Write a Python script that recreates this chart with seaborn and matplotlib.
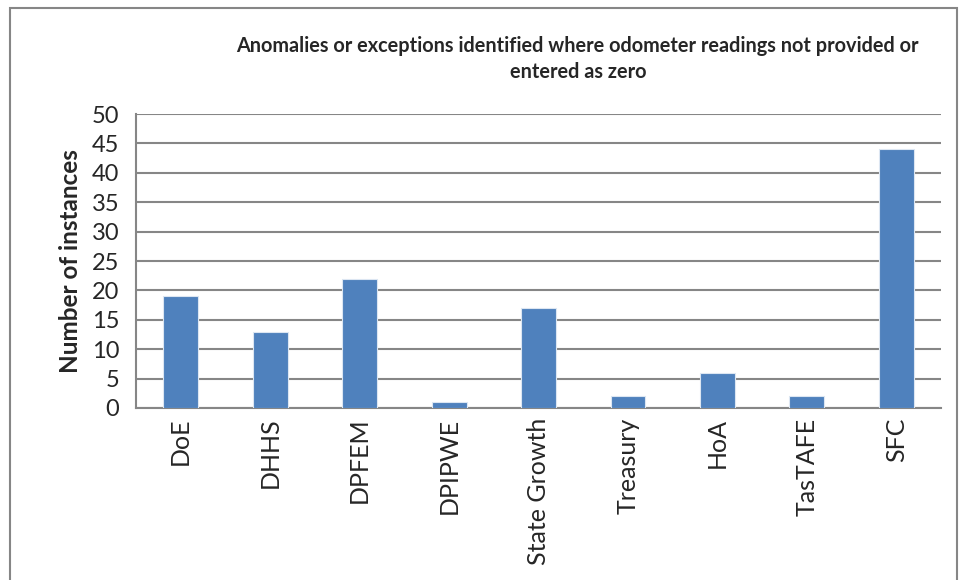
import pandas as pd
import matplotlib.pyplot as plt
import seaborn as sns
from matplotlib.patches import Rectangle

# Chart data
agencies = ['DoE', 'DHHS', 'DPFEM', 'DPIPWE', 'State Growth', 'Treasury', 'HoA', 'TasTAFE', 'SFC']
instances = [19, 13, 22, 1, 17, 2, 6, 2, 44]
y_ticks = list(range(0, 51, 5))

df = pd.DataFrame({'Agency': agencies, 'Instances': instances})

sns.set_style('white')
plt.rcParams['font.family'] = ['Lato', 'DejaVu Sans']

fig = plt.figure(figsize=(9.63, 5.8), dpi=100)
ax = fig.add_axes([0.1412, 0.2966, 0.8360, 0.5068])

sns.barplot(data=df, x='Agency', y='Instances', color='#4F81BD', width=0.39,
            edgecolor='#DCE6F2', linewidth=0.8, saturation=1, ax=ax, zorder=3)

ax.set_ylim(0, 50)
ax.set_xlim(-0.5, len(agencies) - 0.5)
ax.set_yticks(y_ticks)
ax.yaxis.grid(True, color='#868686', linewidth=1.5)
ax.set_axisbelow(True)

# tick marks between categories like Excel
ax.set_xticks(range(len(agencies)))
ax.set_xticklabels(agencies, rotation=90, fontsize=18)
ax.set_xticks([i - 0.5 for i in range(len(agencies) + 1)], minor=True)
ax.tick_params(axis='x', which='major', length=0, pad=7)
ax.tick_params(axis='x', which='minor', length=8, width=1.5, color='#868686', direction='out')
ax.tick_params(axis='y', length=8, width=1.5, color='#868686', direction='out', labelsize=17, pad=4)

for s in ['top', 'right']:
    ax.spines[s].set_visible(False)
for s in ['left', 'bottom']:
    ax.spines[s].set_color('#868686')
    ax.spines[s].set_linewidth(1.5)

ax.set_xlabel('')
ax.set_ylabel('Number of instances', fontsize=17.5, fontweight='bold', labelpad=7)

fig.text(0.600, 0.898, 'Anomalies or exceptions identified where odometer readings not provided or\nentered as zero',
         ha='center', va='center', fontsize=14.3, fontweight='bold', linespacing=1.35)

# outer chart border
fig.patches.append(Rectangle((0.0105, -0.05), 0.983, 1.036, transform=fig.transFigure,
                             fill=False, edgecolor='#868686', linewidth=1.5))

fig.savefig('out.png', dpi=100)
